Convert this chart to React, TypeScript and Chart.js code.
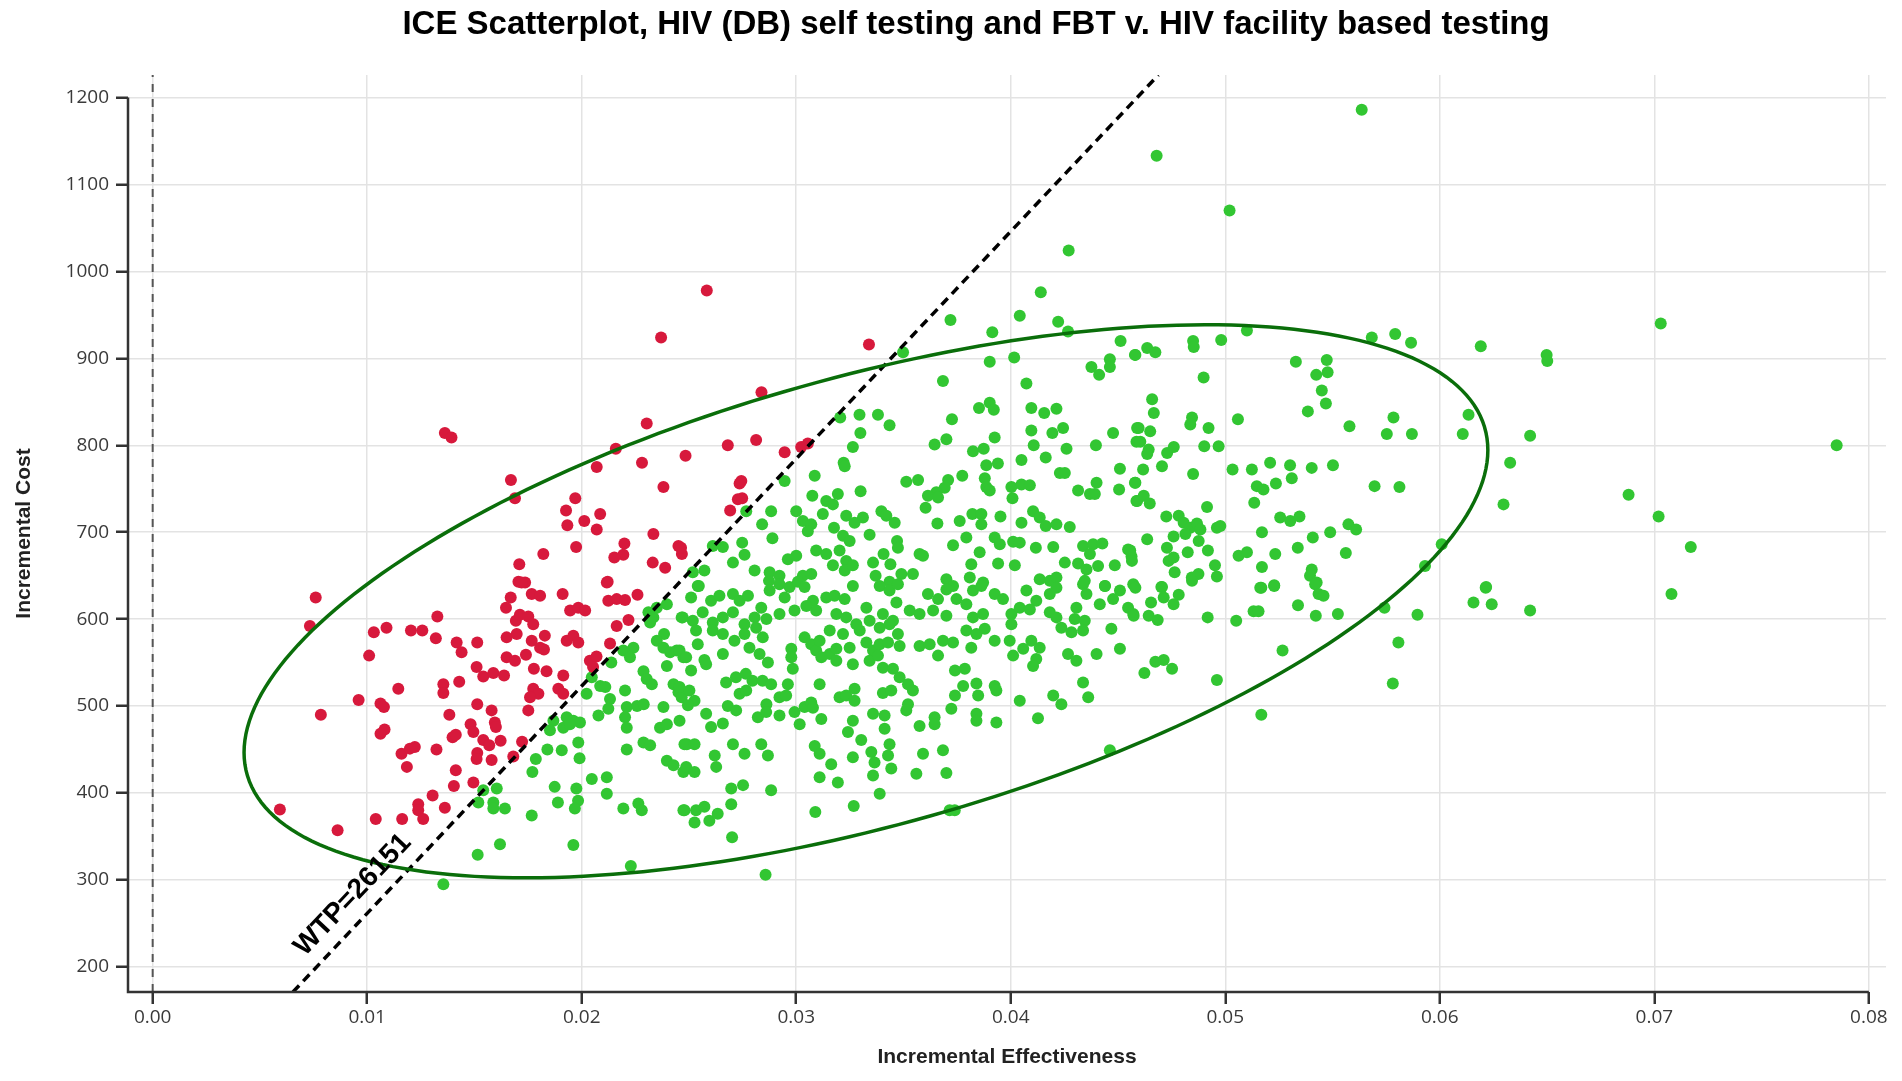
import React, { useEffect, useRef } from 'react';
import { Chart, ChartConfiguration, Plugin, registerables } from 'chart.js';

Chart.register(...registerables);

// ---- data (incremental effectiveness, incremental cost) ----
const TITLE = 'ICE Scatterplot, HIV (DB) self testing and FBT v. HIV facility based testing';
const X_TITLE = 'Incremental Effectiveness';
const Y_TITLE = 'Incremental Cost';
const WTP = 26151;
const WTP_LABEL = 'WTP=26151';

const xTicks = [0, 0.01, 0.02, 0.03, 0.04, 0.05, 0.06, 0.07, 0.08];
const yTicks = [200, 300, 400, 500, 600, 700, 800, 900, 1000, 1100, 1200];

// confidence ellipse: centre and two conjugate semi-diameters (data units)
const ellipseCenter = [0.03325, 620.5];
const ellipseA = [0.02899, 173.9];
const ellipseB = [0, 266.4];

// points above the WTP line (not cost-effective)
const redUpper: [number, number][] = [
  [0.0237, 924], [0.01362, 814], [0.01393, 809], [0.02303, 825], [0.02159, 796], [0.02281, 780],
  [0.02484, 788], [0.0207, 775], [0.02381, 752], [0.0167, 760], [0.01689, 739], [0.0197, 739],
  [0.01927, 725], [0.02086, 721], [0.02012, 713], [0.01933, 708], [0.0207, 703], [0.02334, 698],
  [0.02199, 687], [0.01974, 683], [0.02194, 674], [0.02152, 671], [0.02451, 684], [0.02467, 675],
  [0.01821, 675], [0.01709, 663], [0.02331, 665], [0.02389, 659], [0.01705, 643], [0.01736, 642],
  [0.02121, 643], [0.02583, 978], [0.03339, 916], [0.02838, 861], [0.02681, 800], [0.02813, 806],
  [0.02946, 792], [0.03023, 798], [0.03054, 802], [0.02736, 756], [0.02744, 759], [0.02728, 738],
  [0.02748, 739], [0.02692, 725], [0.02463, 682],
];

const redLower: [number, number][] = [
  [0.0076, 625], [0.00733, 592], [0.01327, 603], [0.01031, 585], [0.0109, 590], [0.01204, 587],
  [0.01257, 587], [0.0132, 578], [0.01009, 558], [0.01417, 573], [0.01513, 573], [0.0144, 562],
  [0.01145, 520], [0.0096, 507], [0.00784, 490], [0.01062, 503], [0.01078, 499], [0.01081, 473],
  [0.01062, 468], [0.01355, 525], [0.01355, 515], [0.01429, 528], [0.0151, 545], [0.01541, 534],
  [0.01588, 538], [0.01638, 535], [0.0165, 579], [0.01647, 613], [0.01669, 625], [0.01693, 598],
  [0.01712, 605], [0.01751, 603], [0.01774, 594], [0.01697, 583], [0.01767, 629], [0.01806, 627],
  [0.0172, 642], [0.01911, 629], [0.01828, 581], [0.01767, 575], [0.01806, 567], [0.01824, 565],
  [0.0165, 556], [0.01689, 552], [0.0174, 559], [0.01777, 543], [0.01836, 540], [0.01914, 535],
  [0.01774, 520], [0.01798, 514], [0.01759, 510], [0.01891, 520], [0.01914, 514], [0.01751, 495],
  [0.01513, 502], [0.01383, 490], [0.0158, 495], [0.01595, 481], [0.016, 476], [0.01482, 479],
  [0.01495, 470], [0.01398, 464], [0.01413, 467], [0.01541, 461], [0.01569, 455], [0.01622, 460],
  [0.01513, 446], [0.0151, 439], [0.0158, 438], [0.01323, 450], [0.0116, 445], [0.01199, 451],
  [0.01222, 453], [0.01185, 430], [0.01413, 426], [0.01404, 408], [0.01495, 412], [0.01681, 442],
  [0.01722, 459], [0.01305, 397], [0.01238, 387], [0.01238, 380], [0.01362, 383], [0.01261, 370],
  [0.01163, 370], [0.0104, 370], [0.00593, 381], [0.00862, 357], [0.01946, 610], [0.01984, 613],
  [0.02016, 610], [0.02117, 642], [0.02124, 621], [0.02163, 623], [0.02202, 622], [0.0226, 628],
  [0.02163, 592], [0.02218, 599], [0.02132, 572], [0.0193, 575], [0.01961, 581], [0.01984, 573],
  [0.02038, 552], [0.02069, 557], [0.02053, 545],
];

// points below the WTP line (cost-effective)
const greenLeft: [number, number][] = [
  [0.02311, 608], [0.0235, 613], [0.02397, 617], [0.02466, 602], [0.02319, 596], [0.02334, 602],
  [0.02384, 583], [0.0235, 575], [0.02381, 567], [0.02412, 562], [0.02443, 564], [0.02474, 556],
  [0.02241, 567], [0.02194, 564], [0.02225, 556], [0.02138, 550], [0.02288, 540], [0.02303, 531],
  [0.02327, 525], [0.02397, 546], [0.02428, 525], [0.02451, 516], [0.02466, 510], [0.02047, 533],
  [0.02086, 523], [0.0211, 522], [0.02023, 514], [0.02132, 508], [0.02124, 497], [0.02202, 518],
  [0.0221, 499], [0.02258, 500], [0.02289, 502], [0.02202, 487], [0.0221, 475], [0.02381, 499],
  [0.02365, 475], [0.02397, 479], [0.02078, 489], [0.0193, 487], [0.01961, 483], [0.01992, 481],
  [0.01868, 483], [0.01852, 472], [0.01914, 475], [0.01945, 479], [0.01984, 458], [0.01907, 449],
  [0.0184, 450], [0.01786, 439], [0.0199, 440], [0.0177, 424], [0.0221, 450], [0.02288, 458],
  [0.02319, 455], [0.02397, 437], [0.02428, 432], [0.02474, 424], [0.0249, 456], [0.02047, 416],
  [0.02117, 418], [0.02117, 399], [0.01874, 407], [0.01975, 405], [0.01889, 389], [0.01983, 391],
  [0.01968, 382], [0.02194, 382], [0.02264, 388], [0.0228, 380], [0.02474, 380], [0.01541, 403],
  [0.01604, 405], [0.01518, 389], [0.01588, 389], [0.01588, 382], [0.01642, 382], [0.01767, 374],
  [0.01515, 329], [0.01619, 341], [0.01961, 340], [0.02229, 316], [0.01355, 295],
];

const greenCenterTop: [number, number][] = [
  [0.0414, 976], [0.03719, 944], [0.04042, 949], [0.04221, 942], [0.04267, 931], [0.03914, 930],
  [0.03498, 907], [0.03902, 896], [0.04016, 901], [0.04512, 920], [0.04579, 904], [0.04462, 899],
  [0.04376, 890], [0.04412, 881], [0.04462, 890], [0.03684, 874], [0.04073, 871], [0.03852, 843],
  [0.03902, 849], [0.03921, 841], [0.04096, 843], [0.04156, 837], [0.04213, 842], [0.03726, 830],
  [0.03205, 832], [0.03295, 835], [0.03381, 835], [0.03435, 823], [0.03299, 814], [0.04096, 817],
  [0.04194, 814], [0.04244, 820], [0.04477, 814], [0.04589, 820], [0.04586, 804], [0.03925, 809],
  [0.03645, 801], [0.037, 807], [0.03264, 798], [0.04107, 800], [0.04397, 800], [0.03824, 793],
  [0.03874, 796], [0.0426, 796], [0.04163, 786], [0.03221, 780], [0.03226, 776], [0.0405, 783],
  [0.03886, 777], [0.0394, 779], [0.04509, 773], [0.04229, 768], [0.04252, 768], [0.02946, 759],
  [0.03086, 765], [0.03774, 765], [0.03513, 758], [0.03568, 760], [0.03708, 760], [0.03692, 751],
  [0.03653, 746], [0.03879, 762], [0.03886, 752], [0.03902, 748], [0.04003, 752], [0.0405, 755],
  [0.04089, 754], [0.044, 757], [0.04314, 748], [0.04369, 744], [0.04392, 744], [0.04505, 749],
  [0.04579, 757], [0.04586, 736], [0.033, 747], [0.03194, 744], [0.0314, 736], [0.03171, 732],
  [0.03075, 742], [0.03614, 742], [0.03661, 740], [0.03603, 728], [0.04008, 739], [0.02767, 724],
  [0.02883, 724], [0.03, 724], [0.03397, 724], [0.0342, 719], [0.03459, 711], [0.03233, 719],
  [0.03272, 711], [0.03311, 717], [0.03031, 713], [0.0307, 709], [0.03054, 701], [0.03124, 721],
  [0.02841, 709], [0.03176, 705], [0.03658, 710], [0.03762, 713], [0.03821, 721], [0.03863, 721],
  [0.03863, 709], [0.03952, 718], [0.0405, 711], [0.04104, 724], [0.04135, 717], [0.04163, 707],
  [0.04213, 709], [0.04275, 706], [0.02889, 693], [0.02748, 688], [0.02611, 684], [0.02658, 683],
  [0.03218, 696], [0.03249, 690], [0.03342, 697], [0.0347, 690], [0.03474, 682], [0.03731, 685],
  [0.03793, 694], [0.03925, 694], [0.03949, 686], [0.04011, 689], [0.04042, 688], [0.04117, 682],
  [0.04198, 683], [0.04337, 684], [0.04384, 686], [0.04427, 687], [0.04369, 675], [0.04547, 680],
  [0.04563, 672], [0.02759, 674], [0.02705, 665], [0.02806, 656], [0.02876, 654], [0.02922, 650],
  [0.02873, 644], [0.02961, 669], [0.03, 673], [0.03093, 679], [0.0314, 675], [0.03202, 679],
  [0.03233, 667], [0.03226, 656], [0.03264, 662], [0.03171, 662], [0.03358, 665], [0.03407, 675],
  [0.03439, 663], [0.03575, 675], [0.03591, 673], [0.0349, 652], [0.03544, 652], [0.03816, 663],
  [0.03855, 677], [0.03941, 664], [0.04019, 662], [0.04252, 665], [0.04314, 664], [0.04353, 657],
  [0.04407, 661], [0.04485, 662], [0.02572, 656], [0.02518, 654], [0.02546, 638], [0.03031, 650],
  [0.0307, 652], [0.0337, 650], [0.03435, 643], [0.037, 646], [0.03731, 638], [0.03809, 648],
  [0.03871, 642], [0.04135, 646], [0.04182, 644], [0.04213, 648], [0.04345, 644], [0.04439, 638],
  [0.04571, 640],
];

const greenCenterBottom: [number, number][] = [
  [0.02541, 638], [0.0251, 625], [0.02603, 621], [0.02642, 627], [0.02705, 629], [0.02736, 621],
  [0.02775, 627], [0.02837, 613], [0.02876, 633], [0.02922, 640], [0.02969, 637], [0.03008, 643],
  [0.03039, 637], [0.02946, 625], [0.03078, 621], [0.0314, 625], [0.03179, 627], [0.03226, 623],
  [0.03264, 638], [0.03327, 613], [0.03389, 638], [0.03435, 633], [0.03474, 640], [0.03467, 619],
  [0.03614, 629], [0.03661, 623], [0.037, 634], [0.03747, 623], [0.03793, 617], [0.03824, 633],
  [0.03863, 638], [0.03925, 629], [0.03964, 623], [0.04073, 633], [0.04119, 621], [0.04182, 629],
  [0.04213, 636], [0.04337, 640], [0.04353, 629], [0.04415, 617], [0.04439, 638], [0.04477, 623],
  [0.04509, 633], [0.04547, 613], [0.04571, 606], [0.02471, 602], [0.02518, 598], [0.02564, 608],
  [0.02611, 596], [0.02658, 602], [0.02705, 608], [0.02759, 594], [0.02806, 602], [0.02861, 600],
  [0.02922, 606], [0.02992, 610], [0.03047, 615], [0.03093, 610], [0.03187, 606], [0.03233, 602],
  [0.0328, 594], [0.03342, 598], [0.03404, 606], [0.03451, 598], [0.03529, 610], [0.03575, 606],
  [0.03638, 610], [0.037, 604], [0.03824, 602], [0.03871, 606], [0.04003, 606], [0.04003, 594],
  [0.04042, 613], [0.04089, 611], [0.04182, 608], [0.04213, 602], [0.04236, 590], [0.04283, 585],
  [0.04306, 613], [0.04298, 600], [0.04345, 598], [0.04337, 587], [0.04469, 589], [0.02456, 564],
  [0.02487, 556], [0.02533, 587], [0.02541, 571], [0.02572, 553], [0.0258, 548], [0.0251, 541],
  [0.02611, 587], [0.02658, 583], [0.02712, 575], [0.02759, 583], [0.02813, 590], [0.02844, 579],
  [0.02658, 560], [0.02782, 567], [0.02829, 560], [0.02868, 550], [0.02673, 527], [0.02719, 533],
  [0.02765, 537], [0.02796, 529], [0.02843, 529], [0.02883, 525], [0.02736, 514], [0.02767, 518],
  [0.02456, 522], [0.02502, 518], [0.02526, 506], [0.02495, 501], [0.02681, 500], [0.0272, 495],
  [0.02861, 502], [0.02922, 510], [0.02953, 512], [0.02961, 525], [0.02984, 543], [0.02977, 566],
  [0.02977, 556], [0.03039, 579], [0.0307, 571], [0.03093, 564], [0.03117, 556], [0.03156, 560],
  [0.03187, 566], [0.03187, 552], [0.03109, 575], [0.03156, 587], [0.03218, 583], [0.03249, 567],
  [0.03264, 548], [0.03327, 573], [0.03358, 564], [0.03389, 571], [0.03428, 573], [0.03474, 583],
  [0.03482, 569], [0.03342, 552], [0.03381, 558], [0.03404, 544], [0.03451, 543], [0.03482, 533],
  [0.03521, 525], [0.03544, 518], [0.03296, 587], [0.03389, 590], [0.03435, 594], [0.03575, 569],
  [0.03622, 571], [0.03661, 558], [0.03684, 575], [0.03731, 573], [0.03793, 587], [0.0384, 583],
  [0.03879, 589], [0.03816, 567], [0.0374, 541], [0.03786, 543], [0.03778, 523], [0.0374, 512],
  [0.03723, 497], [0.0384, 526], [0.03848, 512], [0.0384, 491], [0.0384, 483], [0.03925, 575],
  [0.03995, 575], [0.04011, 558], [0.04058, 566], [0.04096, 575], [0.04135, 567], [0.04119, 554],
  [0.04104, 546], [0.04267, 560], [0.04306, 552], [0.044, 560], [0.04509, 566], [0.03925, 523],
  [0.03933, 518], [0.04042, 506], [0.04198, 512], [0.04236, 502], [0.04337, 527], [0.04361, 510],
  [0.03109, 525], [0.03202, 510], [0.03233, 512], [0.03272, 520], [0.03272, 506], [0.03404, 515],
  [0.03443, 518], [0.03521, 502], [0.03513, 495], [0.03039, 499], [0.0307, 504], [0.0258, 491],
  [0.02603, 476], [0.02658, 480], [0.02456, 483], [0.02479, 456], [0.02526, 456], [0.02487, 430],
  [0.02526, 424], [0.02627, 430], [0.0262, 443], [0.02705, 456], [0.02759, 445], [0.02837, 456],
  [0.02868, 443], [0.02697, 405], [0.02752, 409], [0.02883, 403], [0.02821, 487], [0.0286, 493],
  [0.02922, 489], [0.02992, 493], [0.03016, 479], [0.03078, 498], [0.03117, 485], [0.03086, 454],
  [0.03109, 445], [0.03163, 433], [0.03109, 418], [0.03194, 412], [0.03241, 470], [0.03264, 483],
  [0.03264, 441], [0.03303, 461], [0.0335, 447], [0.03365, 435], [0.03358, 491], [0.03412, 489],
  [0.03412, 474], [0.03435, 456], [0.03428, 443], [0.03358, 420], [0.03443, 428], [0.03389, 399],
  [0.03575, 477], [0.03645, 487], [0.03645, 479], [0.03591, 445], [0.0356, 422], [0.03684, 449],
  [0.037, 423], [0.03933, 481], [0.04127, 486], [0.04462, 449], [0.02479, 380], [0.02533, 380],
  [0.02572, 384], [0.02595, 368], [0.02634, 376], [0.02526, 366], [0.02697, 387], [0.02701, 349],
  [0.03089, 378], [0.03268, 385], [0.03715, 380], [0.03739, 380], [0.02857, 306],
];

const greenRight: [number, number][] = [
  [0.05101, 932], [0.0485, 920], [0.04853, 913], [0.04981, 921], [0.04581, 904], [0.04636, 912],
  [0.04674, 907], [0.05683, 924], [0.05792, 928], [0.05866, 918], [0.06191, 914], [0.06498, 904],
  [0.06501, 897], [0.05329, 896], [0.05473, 898], [0.05477, 884], [0.05424, 881], [0.04899, 878],
  [0.0545, 863], [0.05469, 848], [0.05385, 839], [0.04659, 853], [0.04667, 837], [0.04845, 832],
  [0.04837, 824], [0.04922, 820], [0.05059, 830], [0.05579, 822], [0.05784, 832], [0.05753, 813],
  [0.0587, 813], [0.06134, 835], [0.06107, 813], [0.06421, 811], [0.04596, 820], [0.0465, 816],
  [0.04604, 804], [0.04643, 795], [0.04636, 790], [0.04729, 791], [0.0476, 798], [0.04902, 799],
  [0.04969, 799], [0.04705, 776], [0.04617, 772], [0.0485, 767], [0.04581, 757], [0.05034, 772],
  [0.05124, 772], [0.05209, 780], [0.05302, 777], [0.0531, 762], [0.05403, 774], [0.05502, 777],
  [0.05147, 753], [0.05178, 749], [0.05236, 756], [0.05696, 753], [0.05812, 752], [0.06328, 780],
  [0.06297, 732], [0.04589, 736], [0.0462, 742], [0.04648, 733], [0.05135, 734], [0.04915, 729],
  [0.04725, 718], [0.04783, 719], [0.04806, 711], [0.04837, 705], [0.04814, 698], [0.04868, 710],
  [0.04884, 703], [0.04876, 690], [0.04961, 705], [0.04977, 707], [0.05256, 717], [0.05303, 713],
  [0.05346, 718], [0.05171, 700], [0.05408, 694], [0.05489, 700], [0.05574, 709], [0.0561, 703],
  [0.04636, 692], [0.04759, 695], [0.04728, 682], [0.04736, 667], [0.04759, 671], [0.04557, 679],
  [0.04565, 667], [0.04825, 677], [0.04919, 679], [0.04952, 662], [0.05062, 673], [0.05101, 677],
  [0.05233, 675], [0.05338, 682], [0.05562, 676], [0.06009, 686], [0.05931, 661], [0.05171, 660],
  [0.04764, 654], [0.04844, 648], [0.04875, 652], [0.04961, 649], [0.05403, 657], [0.05395, 650],
  [0.05426, 642], [0.04702, 637], [0.05168, 636], [0.05228, 639], [0.06216, 637], [0.04581, 636],
  [0.04705, 637], [0.04713, 625], [0.04783, 628], [0.04759, 617], [0.04654, 619], [0.04573, 604],
  [0.04643, 604], [0.04685, 599], [0.04845, 644], [0.04918, 602], [0.05051, 598], [0.05163, 636],
  [0.05228, 638], [0.05132, 609], [0.05155, 609], [0.05339, 616], [0.05419, 640], [0.05435, 629],
  [0.05458, 627], [0.05422, 604], [0.05525, 606], [0.05742, 613], [0.05896, 605], [0.06214, 636],
  [0.06157, 619], [0.06242, 617], [0.06421, 610], [0.05807, 573], [0.05781, 526], [0.05267, 564],
  [0.05168, 490], [0.04961, 530], [0.04674, 551], [0.04713, 553], [0.04752, 543], [0.04623, 538],
];

const greenOutliers: [number, number][] = [
  [0.0468, 1133], [0.0502, 1070], [0.05636, 1186], [0.0427, 1024], [0.0688, 743], [0.0702, 718],
  [0.0708, 629], [0.0717, 683], [0.0703, 940], [0.0785, 800],
];

const X_MIN = -0.00115;
const X_MAX = 0.0808;
const Y_MIN = 171;
const Y_MAX = 1226;

const toXY = (pts: [number, number][]) => pts.map(([x, y]) => ({ x, y }));

const TICK_FONT = { family: '"Open Sans", sans-serif', size: 19 };
const AXIS_TITLE_FONT = { family: '"Liberation Sans", Arial, sans-serif', size: 21, weight: 'bold' as const };

// ellipse, spines, WTP label and chart title
const overlayPlugin: Plugin<'scatter'> = {
  id: 'iceOverlay',
  afterDatasetsDraw(chart) {
    const { ctx, scales } = chart;
    const xs = scales.x;
    const ys = scales.y;

    // confidence ellipse
    ctx.save();
    ctx.beginPath();
    for (let i = 0; i <= 240; i++) {
      const t = (i / 240) * Math.PI * 2;
      const ex = ellipseCenter[0] + ellipseA[0] * Math.cos(t) + ellipseB[0] * Math.sin(t);
      const ey = ellipseCenter[1] + ellipseA[1] * Math.cos(t) + ellipseB[1] * Math.sin(t);
      const px = xs.getPixelForValue(ex);
      const py = ys.getPixelForValue(ey);
      if (i === 0) ctx.moveTo(px, py);
      else ctx.lineTo(px, py);
    }
    ctx.closePath();
    ctx.strokeStyle = '#0a6e0a';
    ctx.lineWidth = 3.5;
    ctx.stroke();
    ctx.restore();

    // WTP label, written along the threshold line
    const y1 = 200;
    const y2 = 1000;
    const p1x = xs.getPixelForValue(y1 / WTP);
    const p1y = ys.getPixelForValue(y1);
    const p2x = xs.getPixelForValue(y2 / WTP);
    const p2y = ys.getPixelForValue(y2);
    const angle = Math.atan2(p2y - p1y, p2x - p1x);
    const anchorY = 264.5;
    const ax = xs.getPixelForValue(anchorY / WTP);
    const ay = ys.getPixelForValue(anchorY);
    const off = 23;
    ctx.save();
    ctx.translate(ax + Math.sin(angle) * off, ay - Math.cos(angle) * off);
    ctx.rotate(angle);
    ctx.font = 'bold 28px "Liberation Sans", Arial, sans-serif';
    ctx.fillStyle = '#000';
    ctx.textAlign = 'center';
    ctx.textBaseline = 'middle';
    ctx.fillText(WTP_LABEL, 0, 0);
    ctx.restore();
  },
  afterDraw(chart) {
    const { ctx, scales, chartArea } = chart;
    const xs = scales.x;
    const ys = scales.y;
    ctx.save();
    ctx.strokeStyle = '#333';
    ctx.lineWidth = 2.5;
    ctx.beginPath();
    ctx.moveTo(chartArea.left, ys.getPixelForValue(yTicks[yTicks.length - 1]));
    ctx.lineTo(chartArea.left, chartArea.bottom);
    ctx.lineTo(xs.getPixelForValue(xTicks[xTicks.length - 1]), chartArea.bottom);
    ctx.stroke();

    ctx.font = 'bold 33px "Liberation Sans", Arial, sans-serif';
    ctx.fillStyle = '#000';
    ctx.textAlign = 'center';
    ctx.textBaseline = 'middle';
    ctx.fillText(TITLE, chartArea.left + (chartArea.right - chartArea.left) / 2 - 31, 25);
    ctx.restore();
  },
};

const IceScatter: React.FC = () => {
  const canvasRef = useRef<HTMLCanvasElement>(null);

  useEffect(() => {
    document.body.style.margin = '0';
    if (!canvasRef.current) return;
    const ctx = canvasRef.current.getContext('2d');
    if (!ctx) return;

    const config: ChartConfiguration<'scatter'> = {
      type: 'scatter',
      data: {
        datasets: [
          {
            label: 'zero',
            data: [{ x: 0, y: Y_MIN }, { x: 0, y: Y_MAX }],
            showLine: true,
            borderColor: '#555',
            borderWidth: 2,
            borderDash: [8, 7],
            pointRadius: 0,
          },
          {
            label: 'WTP',
            data: [{ x: Y_MIN / WTP, y: Y_MIN }, { x: Y_MAX / WTP, y: Y_MAX }],
            showLine: true,
            borderColor: '#000',
            borderWidth: 3.5,
            borderDash: [9, 6],
            pointRadius: 0,
          },
          {
            label: 'Not cost-effective',
            data: toXY([...redUpper, ...redLower]),
            backgroundColor: '#d7193c',
            borderWidth: 0,
            pointRadius: 6,
          },
          {
            label: 'Cost-effective',
            data: toXY([...greenLeft, ...greenCenterTop, ...greenCenterBottom, ...greenRight, ...greenOutliers]),
            backgroundColor: '#32c632',
            borderWidth: 0,
            pointRadius: 6,
          },
        ],
      },
      options: {
        responsive: true,
        maintainAspectRatio: false,
        animation: false,
        layout: { padding: { left: 0, right: 16, top: 75, bottom: 0 } },
        plugins: {
          legend: { display: false },
          tooltip: { enabled: false },
          title: { display: false },
        },
        scales: {
          x: {
            type: 'linear',
            min: X_MIN,
            max: X_MAX,
            afterBuildTicks: (axis) => {
              axis.ticks = xTicks.map((value) => ({ value }));
            },
            afterFit: (axis) => {
              axis.height = 89;
            },
            ticks: {
              callback: (v) => Number(v).toFixed(2),
              font: TICK_FONT,
              color: '#3a3a3a',
              padding: 2,
              maxRotation: 0,
              autoSkip: false,
            },
            grid: { color: '#e3e3e3', lineWidth: 1.5, tickLength: 12, tickColor: '#333', tickWidth: 2.5 },
            border: { display: false },
            title: {
              display: true,
              text: X_TITLE,
              font: AXIS_TITLE_FONT,
              color: '#222',
              padding: { top: 0, bottom: 11 },
            },
          },
          y: {
            type: 'linear',
            min: Y_MIN,
            max: Y_MAX,
            afterBuildTicks: (axis) => {
              axis.ticks = yTicks.map((value) => ({ value }));
            },
            afterFit: (axis) => {
              axis.width = 128;
            },
            ticks: {
              callback: (v) => String(v),
              font: TICK_FONT,
              color: '#3a3a3a',
              padding: 7,
            },
            grid: { color: '#e3e3e3', lineWidth: 1.5, tickLength: 12, tickColor: '#333', tickWidth: 2.5 },
            border: { display: false },
            title: {
              display: true,
              text: Y_TITLE,
              font: AXIS_TITLE_FONT,
              color: '#222',
              padding: { top: 12, bottom: 0 },
            },
          },
        },
      },
      plugins: [overlayPlugin],
    };

    const chart = new Chart(ctx, config);
    return () => {
      chart.destroy();
    };
  }, []);

  return (
    <div style={{ position: 'relative', width: 1902, height: 1081, background: '#fff' }}>
      <canvas ref={canvasRef} aria-label="ICE scatterplot" />
    </div>
  );
};

export default function App() {
  return <IceScatter />;
}
